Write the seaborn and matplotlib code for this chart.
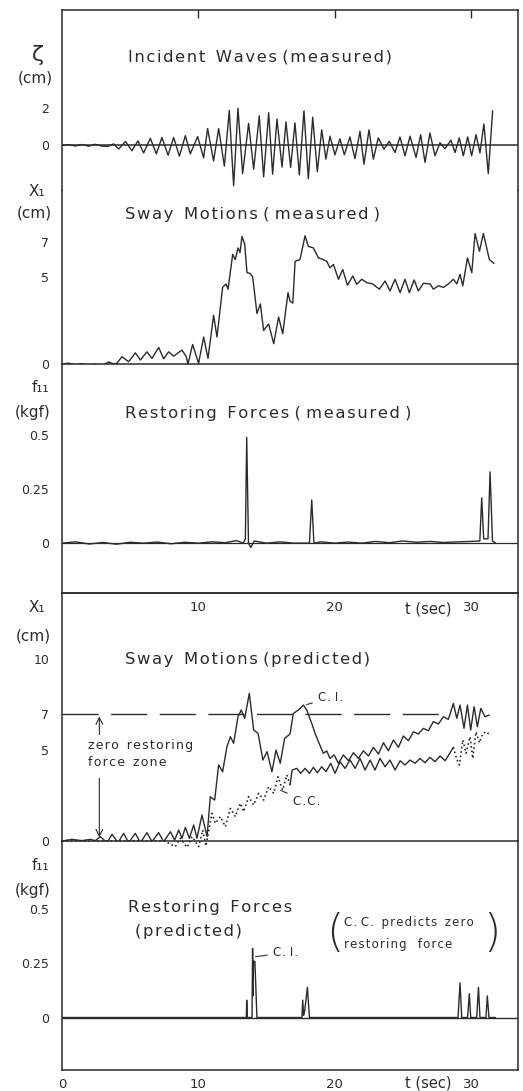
"""Measured vs predicted sway response of a moored body (5 stacked traces)."""

import matplotlib
matplotlib.use("Agg")

import numpy as np
import matplotlib.pyplot as plt
import seaborn as sns

# ── measured incident wave elevation (cm), read at wave crests/troughs ──
ZETA_T = [0.00, 0.49, 0.98, 1.47, 1.96, 2.44, 2.93, 3.37, 3.79, 4.16,
          4.65, 5.13, 5.57, 5.99, 6.48, 6.92, 7.33, 7.78, 8.19, 8.61,
          9.05, 9.41, 9.95, 10.39, 10.68, 11.12, 11.49, 11.91, 12.27, 12.59,
          12.91, 13.25, 13.69, 14.06, 14.47, 14.79, 15.16, 15.45, 15.77, 16.14,
          16.43, 16.77, 17.09, 17.41, 17.75, 18.07, 18.39, 18.73, 19.05, 19.36,
          19.66, 20.02, 20.39, 20.71, 21.12, 21.49, 21.86, 22.15, 22.52, 22.84,
          23.20, 23.62, 24.01, 24.43, 24.79, 25.16, 25.53, 25.97, 26.31, 26.63,
          26.99, 27.36, 27.73, 28.09, 28.53, 28.83, 29.14, 29.44, 29.76, 30.05,
          30.37, 30.66, 30.95, 31.27, 31.59]
ZETA_CM = [0.0, 0.04, -0.03, 0.05, -0.04, 0.06, -0.04, -0.05, 0.08, -0.19,
           0.21, -0.28, 0.24, -0.40, 0.38, -0.45, 0.42, -0.52, 0.42, -0.57,
           0.52, -0.45, 0.47, -0.66, 0.90, -0.83, 0.90, -1.10, 1.86, -2.14,
           1.98, -1.50, 1.17, -1.27, 1.57, -1.67, 1.74, -1.53, 1.40, -1.15,
           1.25, -1.17, 1.20, -1.57, 1.84, -1.77, 1.50, -1.40, 0.83, -0.73,
           0.49, -0.50, 0.35, -0.50, 0.45, -0.70, 0.75, -1.00, 0.83, -0.73,
           0.40, -0.20, 0.22, -0.38, 0.45, -0.55, 0.49, -0.64, 0.57, -0.90,
           0.66, -0.55, 0.14, -0.17, 0.28, -0.38, 0.40, -0.55, 0.45, -0.55,
           0.57, -0.40, 1.14, -1.50, 1.84]

# ── measured sway motion (cm) ──
SWAY_MEAS_T = [0.00, 0.49, 0.98, 1.47, 1.96, 2.44, 2.93, 3.42, 3.79, 4.03,
               4.40, 4.89, 5.38, 5.75, 6.23, 6.60, 7.09, 7.46, 7.82, 8.19,
               8.80, 9.10, 9.24, 9.58, 10.02, 10.39, 10.71, 11.12, 11.37, 11.78,
               12.03, 12.18, 12.52, 12.71, 12.91, 13.06, 13.20, 13.40, 13.57, 13.81,
               13.99, 14.30, 14.55, 14.79, 15.16, 15.53, 15.89, 16.19, 16.58, 16.73,
               16.93, 17.10, 17.46, 17.83, 18.07, 18.44, 18.81, 19.17, 19.42, 19.66,
               19.91, 20.28, 20.59, 20.94, 21.33, 21.62, 21.99, 22.35, 22.79, 23.28,
               23.70, 24.06, 24.43, 24.80, 25.16, 25.48, 25.83, 26.14, 26.51, 27.00,
               27.24, 27.61, 27.98, 28.34, 28.71, 28.96, 29.20, 29.40, 29.74, 30.06,
               30.30, 30.62, 30.91, 31.35, 31.69]
SWAY_MEAS_CM = [0.0, 0.05, -0.05, 0.02, -0.08, 0.0, -0.10, 0.12, 0.0, 0.05,
                0.42, 0.13, 0.64, 0.23, 0.70, 0.32, 0.95, 0.30, 0.70, 0.45,
                0.80, 0.45, 0.0, 1.12, 0.04, 1.55, 0.32, 2.80, 1.55, 4.40,
                4.60, 4.30, 6.30, 6.00, 6.67, 6.40, 7.33, 6.90, 5.25, 5.20,
                5.00, 2.90, 3.45, 1.93, 2.30, 1.17, 2.70, 1.74, 4.10, 3.60,
                3.50, 5.90, 6.00, 7.37, 6.76, 6.67, 6.10, 6.00, 5.90, 5.53,
                5.72, 4.87, 5.43, 4.53, 5.06, 4.58, 4.87, 4.68, 4.60, 4.30,
                4.77, 4.20, 4.87, 4.10, 4.87, 4.10, 4.83, 4.20, 4.64, 4.60,
                4.30, 4.50, 4.40, 4.60, 4.87, 4.60, 5.15, 4.49, 6.10, 5.25,
                7.50, 6.48, 7.50, 6.00, 5.78]

# ── measured restoring force (kgf) ──
FORCE_MEAS_T = [0.0, 1.0, 2.0, 3.0, 4.0, 5.0, 6.0, 7.0, 8.0, 9.0,
                10.0, 11.0, 12.0, 12.8, 13.3, 13.45, 13.55, 13.68, 13.85, 14.1,
                15.0, 16.0, 17.0, 18.15, 18.32, 18.48, 19.0, 20.0, 21.0, 22.0,
                23.0, 24.0, 25.0, 26.0, 27.0, 28.0, 29.0, 30.0, 30.65, 30.79,
                30.93, 31.25, 31.40, 31.58, 31.8]
FORCE_MEAS_KGF = [0.0, 0.006, -0.004, 0.003, -0.005, 0.004, 0.0, 0.005, -0.003, 0.004,
                  0.0, 0.006, 0.002, 0.012, 0.0, 0.02, 0.49, 0.0, -0.02, 0.01,
                  0.0, 0.006, 0.0, 0.0, 0.20, 0.0, 0.006, 0.0, 0.005, 0.0,
                  0.008, 0.002, 0.01, 0.004, 0.008, 0.003, 0.006, 0.008, 0.01, 0.21,
                  0.02, 0.02, 0.33, 0.01, 0.0]

# ── predicted sway, C.I. model (cm) ──
SWAY_CI_T = [0.00, 0.73, 1.47, 2.08, 2.44, 2.81, 3.30, 3.67, 4.11, 4.52,
             4.89, 5.38, 5.75, 6.23, 6.60, 7.09, 7.46, 7.95, 8.26, 8.56,
             8.80, 9.05, 9.34, 9.66, 9.90, 10.27, 10.64, 10.88, 11.20, 11.49,
             11.78, 12.10, 12.35, 12.59, 12.91, 13.15, 13.40, 13.74, 14.06, 14.38,
             14.74, 15.04, 15.40, 15.70, 16.01, 16.33, 16.63, 16.73, 16.97, 17.34,
             17.71, 17.95, 18.32, 18.56, 18.81, 19.17, 19.42, 19.66, 19.96, 20.28,
             20.64, 21.01, 21.38, 21.74, 22.11, 22.48, 22.84, 23.21, 23.58, 23.94,
             24.31, 24.68, 25.04, 25.41, 25.78, 26.14, 26.51, 26.88, 27.24, 27.61,
             27.98, 28.34, 28.71, 28.96, 29.20, 29.49, 29.74, 29.98, 30.23, 30.47,
             30.72, 31.03, 31.35]
SWAY_CI_CM = [0.0, 0.09, 0.02, 0.09, 0.02, 0.24, -0.09, 0.37, -0.09, 0.42,
              -0.09, 0.42, -0.09, 0.46, -0.04, 0.46, -0.04, 0.51, 0.05, 0.60,
              0.15, 0.75, 0.15, 0.88, 0.15, 1.43, 0.24, 2.43, 2.25, 4.18,
              3.80, 5.18, 5.73, 5.37, 6.83, 7.20, 6.74, 8.11, 6.10, 5.92,
              4.45, 4.91, 3.81, 5.00, 4.27, 5.64, 5.82, 5.90, 7.01, 7.20,
              7.47, 7.20, 6.46, 5.92, 5.46, 4.82, 4.95, 4.54, 4.73, 4.27,
              4.73, 4.41, 4.85, 4.54, 4.96, 4.67, 5.15, 4.78, 5.40, 4.96,
              5.55, 5.15, 5.77, 5.51, 6.00, 5.88, 6.19, 6.06, 6.56, 6.43,
              6.83, 6.68, 7.56, 6.74, 7.47, 6.19, 7.47, 6.10, 7.38, 6.28,
              7.29, 6.83, 6.92]

# ── predicted sway, C.C. model (cm) ──
SWAY_CC_T = [0.00, 7.50, 8.31, 8.68, 9.17, 9.54, 10.02, 10.32, 10.56, 11.00,
             11.25, 11.61, 11.98, 12.35, 12.71, 13.08, 13.33, 13.69, 14.06, 14.43,
             14.79, 15.16, 15.53, 15.84, 16.19, 16.50, 16.73, 16.88, 17.22, 17.51,
             17.83, 18.15, 18.44, 18.73, 19.05, 19.37, 19.71, 20.03, 20.40, 20.76,
             21.13, 21.50, 21.86, 22.23, 22.60, 22.96, 23.33, 23.70, 24.06, 24.43,
             24.80, 25.16, 25.53, 25.90, 26.26, 26.63, 26.99, 27.36, 27.73, 28.10,
             28.47, 28.71, 28.96, 29.15, 29.40, 29.64, 29.93, 30.13, 30.37, 30.62,
             30.86, 31.16, 31.35]
SWAY_CC_CM = [0.0, 0.0, -0.31, 0.15, -0.35, 0.24, -0.31, 0.60, -0.27, 1.52,
              0.97, 1.34, 0.79, 1.79, 1.34, 2.07, 1.61, 2.44, 1.98, 2.62,
              2.25, 2.99, 2.62, 3.53, 2.80, 3.63, 3.08, 3.90, 3.99, 3.72,
              3.99, 3.72, 4.05, 3.75, 4.08, 3.81, 4.27, 3.72, 4.36, 3.99,
              4.45, 3.99, 4.54, 3.90, 4.45, 3.90, 4.54, 4.08, 4.45, 3.90,
              4.41, 4.18, 4.45, 4.27, 4.54, 4.30, 4.60, 4.36, 4.67, 4.41,
              4.85, 5.15, 4.49, 4.18, 5.55, 4.82, 5.73, 4.54, 6.00, 5.40,
              5.92, 6.00, 5.82]
CC_SOLID_FROM, CC_SOLID_TO = 16.73, 28.71

# ── predicted restoring force, C.I. model (kgf) ──
FORCE_PRED_T = [0.0, 13.52, 13.55, 13.60, 13.94, 13.98, 14.01, 14.05, 14.15, 14.30,
                17.60, 17.66, 17.72, 17.80, 18.00, 18.15, 29.05, 29.20, 29.32, 29.75,
                29.88, 29.98, 30.42, 30.55, 30.66, 31.10, 31.20, 31.32, 31.80]
FORCE_PRED_KGF = [0.0, 0.0, 0.08, 0.0, 0.0, 0.32, 0.10, 0.26, 0.26, 0.0,
                  0.0, 0.08, 0.01, 0.03, 0.14, 0.0, 0.0, 0.16, 0.0, 0.0,
                  0.11, 0.0, 0.0, 0.14, 0.0, 0.0, 0.10, 0.0, 0.0]

ZONE_LIMIT_CM = 7.0
ZONE_END_T = 28.2

INK = "#2b2b2b"
T_MAX = 33.45
W_PX, H_PX = 523, 1091
HAIR = "\u200a"


def spaced(text):
    """Typewriter-like letter tracking, as on the original plate."""
    out = text[0]
    for prev, ch in zip(text, text[1:]):
        out += ch if " " in (prev, ch) else HAIR + ch
    return out


def panel(fig, top_px, bottom_px):
    """Axes spanning the given pixel rows of the page."""
    left, right = 62, 518
    ax = fig.add_axes([left / W_PX, 1 - bottom_px / H_PX,
                       (right - left) / W_PX, (bottom_px - top_px) / H_PX])
    ax.patch.set_alpha(0)
    ax.set_xlim(0, T_MAX)
    for s in ax.spines.values():
        s.set_color(INK)
        s.set_linewidth(1.1)
    ax.tick_params(axis="y", direction="in", length=7, width=1.0, pad=9,
                   labelsize=9, colors=INK)
    ax.tick_params(axis="x", direction="in", length=6, width=1.0, pad=6,
                   labelsize=9.5, colors=INK)
    return ax


def trace(ax, t, y, **kw):
    kw.setdefault("linewidth", 1.0)
    sns.lineplot(x=t, y=y, ax=ax, color=INK, sort=False, estimator=None, **kw)
    ax.set_xlabel("")
    ax.set_ylabel("")


def note(ax, x, y, text, size=11.8, **kw):
    ax.text(x, y, spaced(text), fontsize=size, color=INK, va="center", **kw)


def side_label(fig, text, x_px, y_px, size=11):
    fig.text(x_px / W_PX, 1 - y_px / H_PX, text, ha="center", va="center",
             fontsize=size, color=INK)


sns.set_theme(style="white")
plt.rcParams["font.family"] = ["DejaVu Sans"]

fig = plt.figure(figsize=(W_PX / 100, H_PX / 100), dpi=100)

# ── measured block ───────────────────────────────────────────────────────
ax_z = panel(fig, 10, 190)
ax_z.axhline(0, color=INK, lw=1.1)
trace(ax_z, ZETA_T, ZETA_CM)
ax_z.set_ylim(-2.37, 7.2)
ax_z.set_yticks([0, 2], ["0", "2"])
ax_z.xaxis.set_ticks_position("top")
ax_z.set_xticks([10, 20, 30], ["", "", ""])
ax_z.spines["bottom"].set_visible(False)
note(ax_z, 4.85, 4.7, "Incident  Waves (measured)")

ax_sm = panel(fig, 190, 364)
trace(ax_sm, SWAY_MEAS_T, SWAY_MEAS_CM)
ax_sm.set_ylim(0, 10)
ax_sm.set_yticks([0, 5, 7, 10], ["0", "5", "7", ""])
ax_sm.set_xticks([])
ax_sm.spines["top"].set_visible(False)
note(ax_sm, 4.6, 8.6, "Sway  Motions ( measured )")

ax_fm = panel(fig, 364, 593)
ax_fm.axhline(0, color=INK, lw=0.9)
trace(ax_fm, FORCE_MEAS_T, FORCE_MEAS_KGF)
ax_fm.set_ylim(-0.231, 0.830)
ax_fm.set_yticks([0, 0.25, 0.5], ["0", "0.25", "0.5"])
ax_fm.set_xticks([10, 20, 30], ["10", "20", "30"])
ax_fm.spines["top"].set_visible(False)
note(ax_fm, 4.6, 0.60, "Restoring  Forces ( measured )")

# ── predicted block ──────────────────────────────────────────────────────
ax_sp = panel(fig, 593, 841)
ax_sp.hlines(ZONE_LIMIT_CM, 0, ZONE_END_T, color=INK, lw=1.0, linestyles=(0, (26, 9)))
cc_t = np.array(SWAY_CC_T)
cc_y = np.array(SWAY_CC_CM)
early = cc_t <= CC_SOLID_FROM
mid = (cc_t >= CC_SOLID_FROM) & (cc_t <= CC_SOLID_TO)
late = cc_t >= CC_SOLID_TO
trace(ax_sp, cc_t[early], cc_y[early], linestyle=":", linewidth=1.2, clip_on=False)
trace(ax_sp, cc_t[mid], cc_y[mid])
trace(ax_sp, cc_t[late], cc_y[late], linestyle=":", linewidth=1.2)
trace(ax_sp, SWAY_CI_T, SWAY_CI_CM)
ax_sp.set_ylim(0, 13.63)
ax_sp.set_yticks([0, 5, 7, 10], ["0", "5", "7", "10"])
ax_sp.set_xticks([])
note(ax_sp, 4.6, 9.95, "Sway  Motions (predicted)")
note(ax_sp, 1.9, 5.27, "zero  restoring", size=9)
note(ax_sp, 1.9, 4.29, "force  zone", size=9)
ax_sp.annotate("", xy=(2.74, ZONE_LIMIT_CM), xytext=(2.74, 5.7),
               arrowprops=dict(arrowstyle="->", color=INK, lw=0.8))
ax_sp.annotate("", xy=(2.74, 0.05), xytext=(2.74, 3.6),
               arrowprops=dict(arrowstyle="->", color=INK, lw=0.8))
ax_sp.annotate(spaced("C. I."), xy=(17.75, 7.45), xytext=(18.8, 7.9), fontsize=8.5,
               color=INK, va="center",
               arrowprops=dict(arrowstyle="-", color=INK, lw=0.8))
ax_sp.annotate(spaced("C.C."), xy=(15.85, 2.85), xytext=(16.95, 2.15), fontsize=8.5,
               color=INK, va="center",
               arrowprops=dict(arrowstyle="-", color=INK, lw=0.8))

ax_fp = panel(fig, 841, 1070)
ax_fp.axhline(0, color=INK, lw=1.0)
trace(ax_fp, FORCE_PRED_T, FORCE_PRED_KGF)
ax_fp.set_ylim(-0.243, 0.817)
ax_fp.set_yticks([0, 0.25, 0.5], ["0", "0.25", "0.5"])
ax_fp.set_xticks([0, 10, 20, 30], ["0", "10", "20", "30"])
ax_fp.spines["top"].set_visible(False)
note(ax_fp, 4.85, 0.507, "Restoring  Forces")
note(ax_fp, 5.35, 0.396, "(predicted)")
ax_fp.text(20.0, 0.39, "(", fontsize=32, color=INK, va="center", ha="center",
           fontweight="light")
ax_fp.text(31.5, 0.39, ")", fontsize=32, color=INK, va="center", ha="center",
           fontweight="light")
note(ax_fp, 20.7, 0.442, "C. C.  predicts  zero", size=8.5)
note(ax_fp, 20.7, 0.336, "restoring   force", size=8.5)
ax_fp.annotate(spaced("C. I."), xy=(14.0, 0.28), xytext=(15.5, 0.30), fontsize=8.5,
               color=INK, va="center",
               arrowprops=dict(arrowstyle="-", color=INK, lw=0.8))

# axis names and the "t (sec)" captions sit in the margins
for txt, x, y, size in [("ζ", 38, 55, 16), ("(cm)", 35, 78, 11),
                        ("X₁", 37, 191, 11), ("(cm)", 34, 213, 11),
                        ("f₁₁", 40, 388, 11), ("(kgf)", 33, 413, 11),
                        ("X₁", 37, 607, 11), ("(cm)", 33, 636, 11),
                        ("f₁₁", 40, 866, 11), ("(kgf)", 33, 890, 11),
                        ("t (sec)", 428, 609, 10.5), ("t (sec)", 428, 1083, 10.5)]:
    side_label(fig, txt, x, y, size)

fig.savefig("out.png", dpi=100)
